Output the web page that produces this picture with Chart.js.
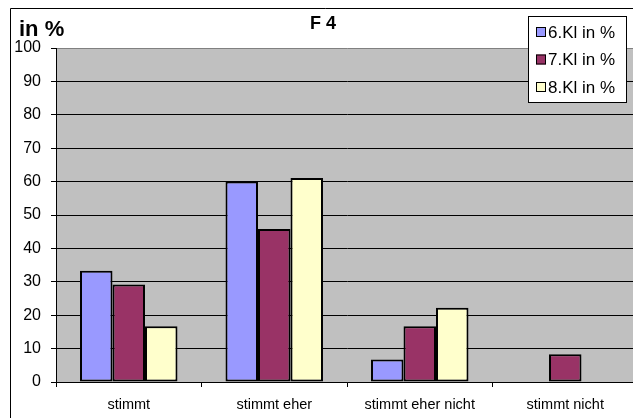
<!DOCTYPE html>
<html>
<head>
<meta charset="utf-8">
<script src="https://cdn.jsdelivr.net/npm/chart.js@4/dist/chart.umd.min.js"></script>
<style>
  html, body { margin: 0; padding: 0; overflow: hidden; background: #fff; }
  #wrap { width: 640px; height: 418px; position: relative; }
</style>
</head>
<body>
<div id="wrap"><canvas id="c"></canvas></div>
<script>
// Answer categories and class shares (percent)
const categories = ['stimmt', 'stimmt eher', 'stimmt eher nicht', 'stimmt nicht'];
const seriesNames = ['6.Kl in %', '7.Kl in %', '8.Kl in %'];
const kl6 = [33.3, 60.0, 6.7, null];
const kl7 = [29.2, 45.8, 16.7, 8.3];
const kl8 = [16.7, 61.1, 22.2, null];
const yTicks = [0, 10, 20, 30, 40, 50, 60, 70, 80, 90, 100];
const chartTitle = 'F 4';
const axisUnit = 'in %';

const seriesColors = ['#9999FF', '#993366', '#FFFFCC'];
const FONT = 'Arial, "Liberation Sans", sans-serif';

// Grey plot background, outer frame and heading texts
const decor = {
  id: 'decor',
  beforeDraw(chart) {
    const { ctx, chartArea: a } = chart;
    ctx.save();
    ctx.fillStyle = '#C0C0C0';
    ctx.fillRect(a.left, a.top, a.right - a.left, a.bottom - a.top);
    ctx.strokeStyle = '#000';
    ctx.lineWidth = 1;
    ctx.beginPath();
    ctx.moveTo(10.5, chart.height);
    ctx.lineTo(10.5, 8.5);
    ctx.lineTo(chart.width, 8.5);
    ctx.stroke();
    ctx.fillStyle = '#000';
    ctx.textBaseline = 'middle';
    ctx.font = 'bold 22px ' + FONT;
    ctx.textAlign = 'left';
    ctx.fillText(axisUnit, 19, 30);
    ctx.font = 'bold 18px ' + FONT;
    ctx.textAlign = 'center';
    ctx.fillText(chartTitle, 323, 24);
    ctx.restore();
  }
};

// Framed legend box in the upper right corner
const boxLegend = {
  id: 'boxLegend',
  afterDraw(chart) {
    const { ctx } = chart;
    const x = 528, y = 16, w = 98, h = 86;
    ctx.save();
    ctx.fillStyle = '#fff';
    ctx.fillRect(x, y, w, h);
    ctx.strokeStyle = '#000';
    ctx.lineWidth = 1;
    ctx.strokeRect(x + 0.5, y + 0.5, w, h);
    ctx.font = '17px ' + FONT;
    ctx.textBaseline = 'middle';
    ctx.textAlign = 'left';
    chart.data.datasets.forEach((ds, i) => {
      const cy = y + 16 + i * 27.5;
      ctx.fillStyle = ds.backgroundColor;
      ctx.fillRect(x + 8, cy - 5, 10, 10);
      ctx.strokeStyle = '#000';
      ctx.strokeRect(x + 8.5, cy - 4.5, 9, 9);
      ctx.fillStyle = '#000';
      ctx.fillText(ds.label, x + 20, cy + 1);
    });
    ctx.restore();
  }
};

const series = [kl6, kl7, kl8];

new Chart(document.getElementById('c'), {
  type: 'bar',
  data: {
    labels: categories,
    datasets: series.map((vals, i) => ({
      label: seriesNames[i],
      data: vals,
      backgroundColor: seriesColors[i],
      borderColor: '#000',
      borderWidth: 2,
      borderSkipped: false,
      categoryPercentage: 0.67,
      barPercentage: 1.0
    }))
  },
  options: {
    responsive: true,
    maintainAspectRatio: false,
    animation: false,
    layout: { padding: { top: 48, right: 2, left: 0, bottom: 0 } },
    plugins: { legend: { display: false }, title: { display: false }, tooltip: { enabled: false } },
    scales: {
      x: {
        afterFit(s) { s.height = 36; },
        grid: { offset: true, drawOnChartArea: false, drawTicks: true, tickLength: 5, color: '#000' },
        border: { display: true, color: '#000', width: 1 },
        ticks: { color: '#000', font: { family: FONT, size: 14.5 }, padding: 9, maxRotation: 0 }
      },
      y: {
        min: 0,
        max: 100,
        afterFit(s) { s.width = 56; },
        afterBuildTicks(s) { s.ticks = yTicks.map(v => ({ value: v })); },
        grid: {
          color: ctx => (ctx.tick && ctx.tick.value === 100 ? '#808080' : '#000'),
          tickColor: '#000',
          tickLength: 5,
          lineWidth: 1
        },
        border: { display: true, color: '#000', width: 1 },
        ticks: { color: '#000', font: { family: FONT, size: 16 }, padding: 10 }
      }
    }
  },
  plugins: [decor, boxLegend]
});
</script>
</body>
</html>
